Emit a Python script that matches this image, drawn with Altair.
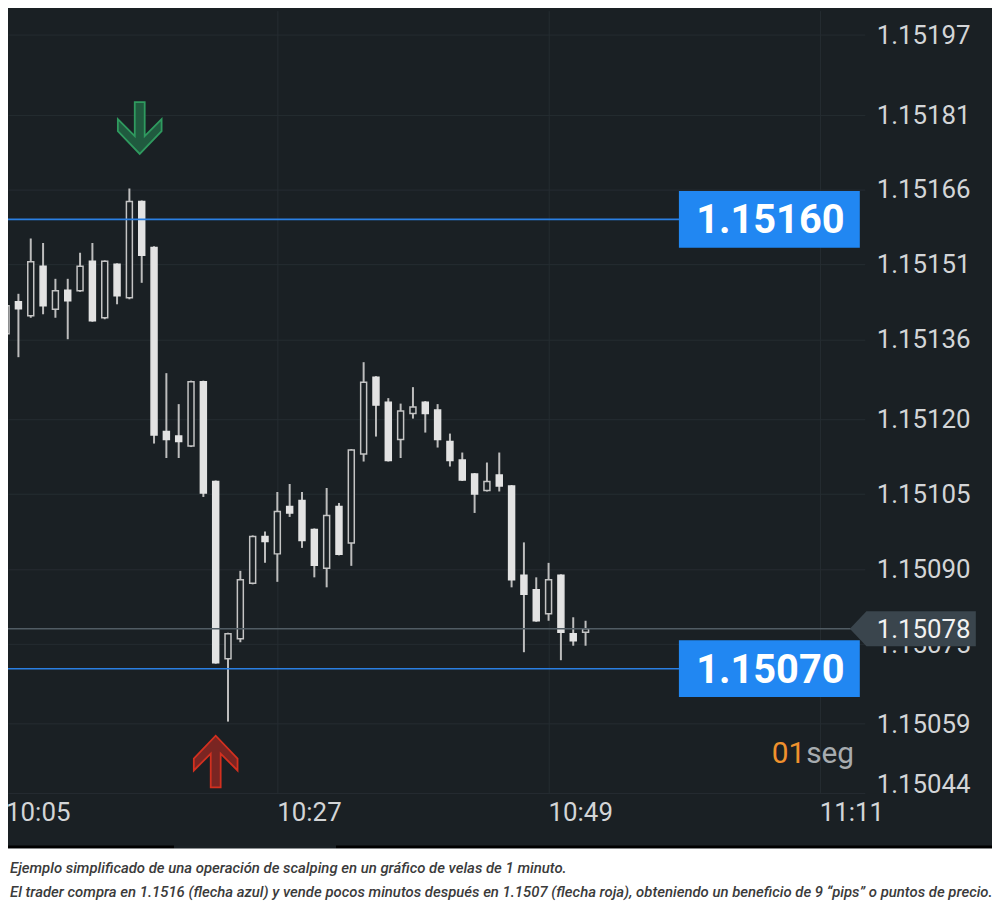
import altair as alt
import pandas as pd

# ---------------- data ----------------
times = ["10:05", "10:06", "10:07", "10:08", "10:09", "10:10", "10:11", "10:12",
         "10:13", "10:14", "10:15", "10:16", "10:17", "10:18", "10:19", "10:20",
         "10:21", "10:22", "10:23", "10:24", "10:25", "10:26", "10:27", "10:28",
         "10:29", "10:30", "10:31", "10:32", "10:33", "10:34", "10:35", "10:36",
         "10:37", "10:38", "10:39", "10:40", "10:41", "10:42", "10:43", "10:44",
         "10:45", "10:46", "10:47", "10:48", "10:49", "10:50", "10:51", "10:52"]
opens = [1.151371, 1.151435, 1.151407, 1.151506, 1.151420, 1.151458, 1.151457, 1.151516,
         1.151403, 1.151510, 1.151443, 1.151636, 1.151544, 1.151175, 1.151166, 1.151146,
         1.151275, 1.151075, 1.150720, 1.150760, 1.150871, 1.150965, 1.150930, 1.151025,
         1.151037, 1.150979, 1.150901, 1.151025, 1.150952, 1.151130, 1.151284, 1.151234,
         1.151159, 1.151211, 1.151234, 1.151218, 1.151155, 1.151118, 1.151090, 1.151057,
         1.151088, 1.151066, 1.150887, 1.150858, 1.150810, 1.150887, 1.150770, 1.150773]
highs = [1.151443, 1.151451, 1.151562, 1.151553, 1.151481, 1.151481, 1.151533, 1.151553,
         1.151518, 1.151512, 1.151662, 1.151638, 1.151546, 1.151292, 1.151230, 1.151277,
         1.151277, 1.151077, 1.150772, 1.150896, 1.150967, 1.150975, 1.151054, 1.151070,
         1.151054, 1.150981, 1.151062, 1.151032, 1.151140, 1.151314, 1.151286, 1.151242,
         1.151231, 1.151264, 1.151236, 1.151230, 1.151171, 1.151133, 1.151092, 1.151113,
         1.151133, 1.151068, 1.150953, 1.150883, 1.150912, 1.150889, 1.150803, 1.150796]
lows = [1.151323, 1.151324, 1.151403, 1.151410, 1.151403, 1.151360, 1.151455, 1.151395,
        1.151400, 1.151430, 1.151440, 1.151473, 1.151151, 1.151122, 1.151122, 1.151144,
        1.151044, 1.150710, 1.150594, 1.150753, 1.150869, 1.150912, 1.150874, 1.151004,
        1.150942, 1.150883, 1.150863, 1.150927, 1.150906, 1.151115, 1.151165, 1.151115,
        1.151122, 1.151201, 1.151173, 1.151143, 1.151105, 1.151076, 1.151012, 1.151055,
        1.151055, 1.150863, 1.150733, 1.150794, 1.150796, 1.150717, 1.150746, 1.150746]
closes = [1.151427, 1.151421, 1.151515, 1.151427, 1.151457, 1.151437, 1.151506, 1.151397,
          1.151516, 1.151447, 1.151636, 1.151528, 1.151168, 1.151159, 1.151155, 1.151275,
          1.151052, 1.150712, 1.150770, 1.150878, 1.150965, 1.150955, 1.151015, 1.151012,
          1.150957, 1.150907, 1.151007, 1.150929, 1.151138, 1.151274, 1.151228, 1.151117,
          1.151216, 1.151224, 1.151211, 1.151159, 1.151117, 1.151078, 1.151050, 1.151075,
          1.151066, 1.150878, 1.150849, 1.150796, 1.150878, 1.150773, 1.150756, 1.150780]

level_prices = [1.15160, 1.15070]
level_labels = ["1.15160", "1.15070"]
last_price = [1.15078]
last_label = ["1.15078"]
y_ticks = [1.15197, 1.15181, 1.15166, 1.15151, 1.15136, 1.15120, 1.15105,
           1.15090, 1.15075, 1.15059, 1.15044]
y_tick_labels = ["1.15197", "1.15181", "1.15166", "1.15151", "1.15136", "1.15120",
                 "1.15105", "1.15090", "1.15075", "1.15059", "1.15044"]
x_ticks = ["10:05", "10:27", "10:49", "11:11"]
arrow_times = ["10:16", "10:22"]
arrow_prices = [1.151783, 1.150514]
timer_num = ["01"]
timer_unit = ["seg"]
caption_lines = [
    "Ejemplo simplificado de una operación de scalping en un gráfico de velas de 1 minuto.",
    "El trader compra en 1.1516 (flecha azul) y vende pocos minutos después en 1.1507 (flecha roja), obteniendo un beneficio de 9 “pips” o puntos de precio.",
]

# lowest level at which the platform still prints a price label (bottom labels are kept inside the pane)
label_floor = 1.150469


def to_min(s):
    h, m = s.split(":")
    return int(h) * 60 + int(m)


candles = pd.DataFrame({
    "minute": [to_min(t) for t in times],
    "open": opens, "high": highs, "low": lows, "close": closes,
})
candles["dir"] = ["up" if c >= o else "down" for o, c in zip(opens, closes)]

levels = pd.DataFrame({"price": level_prices, "label": level_labels})
current = pd.DataFrame({"price": last_price, "label": last_label})
arrows = pd.DataFrame({"minute": [to_min(t) for t in arrow_times], "price": arrow_prices})
xlab = pd.DataFrame({"minute": [to_min(t) for t in x_ticks], "label": x_ticks})
ylab = pd.DataFrame({"price": [max(v, label_floor) for v in y_ticks], "label": y_tick_labels})

# ---------------- style ----------------
BG = "#1a2024"
GRID = "#252c31"
LABEL = "#d3d5d7"
FILLC = "#e3e3e3"
OUTLINE = "#c4c4c4"
WICK = "#bdbdbd"
BLUE_LINE = "#2a7fe2"
BLUE_BOX = "#2187f2"
TAG = "#3a454d"
CP_LINE = "#515c64"
FONT = "Roboto"

xs = alt.Scale(domain=[605.558, 674.243], nice=False, zero=False)
ys = alt.Scale(domain=[1.1504511, 1.1520181], nice=False, zero=False)

x_axis = alt.Axis(
    values=[to_min(t) for t in x_ticks], labels=False,
    title=None, grid=True, gridColor=GRID, gridWidth=1,
    domain=True, domainColor=GRID, domainWidth=1,
    ticks=False, tickSize=0,
)
y_axis = alt.Axis(
    orient="right", values=y_ticks, labels=False,
    title=None, grid=True, gridColor=GRID, gridWidth=1,
    domain=False, ticks=False, tickSize=0,
)

X = alt.X("minute:Q", scale=xs, axis=x_axis)


def Y(field):
    return alt.Y(field, scale=ys, axis=y_axis)


# axis labels as text layers (so the partly hidden edge labels are kept)
x_labels = alt.Chart(xlab).mark_text(
    font=FONT, fontSize=26, color=LABEL, align="left", baseline="middle").encode(
    x=X, y=alt.value(807), text="label:N")
y_labels = alt.Chart(ylab).mark_text(
    font=FONT, fontSize=26, color=LABEL, align="left", baseline="middle", dy=1).encode(
    x=alt.value(874), y=Y("price:Q"), text="label:N")

# candles
wicks = alt.Chart(candles).mark_rule(strokeWidth=2, color=WICK, clip=True).encode(
    x=X, y=Y("low:Q"), y2="high:Q")

bodies = alt.Chart(candles).mark_bar(size=6, strokeWidth=1.5, clip=True).encode(
    x=X,
    y=Y("open:Q"),
    y2="close:Q",
    fill=alt.Fill("dir:N", scale=alt.Scale(domain=["up", "down"], range=[BG, FILLC]), legend=None),
    stroke=alt.Stroke("dir:N", scale=alt.Scale(domain=["up", "down"], range=[OUTLINE, FILLC]), legend=None),
)

# level lines and boxes
level_lines = alt.Chart(levels).mark_rule(color=BLUE_LINE, strokeWidth=1.6).encode(
    x=alt.value(0), x2=alt.value(676), y=Y("price:Q"))

BOX_PATH = "M-91,-28.5L91,-28.5L91,28.5L-91,28.5Z"
level_boxes = alt.Chart(levels).mark_point(
    shape=BOX_PATH, size=4, filled=True, fill=BLUE_BOX, stroke=BLUE_BOX,
    strokeWidth=0, opacity=1).encode(
    x=alt.value(766), y=Y("price:Q"))

level_text = alt.Chart(levels).mark_text(
    font=FONT, fontSize=40, fontWeight="bold", color="#ffffff",
    align="center", baseline="middle", dy=2).encode(
    x=alt.value(767), y=Y("price:Q"), text="label:N")

# current price line + tag
cp_line = alt.Chart(current).mark_rule(color=CP_LINE, strokeWidth=1.5).encode(
    x=alt.value(0), x2=alt.value(848), y=Y("price:Q"))

TAG_PATH = "M0,0L16.7,-17.5L126.7,-17.5L126.7,17.5L16.7,17.5Z"
cp_tag = alt.Chart(current).mark_point(
    shape=TAG_PATH, size=4, filled=True, fill=TAG, stroke=TAG,
    strokeWidth=0, opacity=1).encode(
    x=alt.value(847), y=Y("price:Q"))

cp_text = alt.Chart(current).mark_text(
    font=FONT, fontSize=26, color="#f2f2f2", align="left", baseline="middle", dy=1).encode(
    x=alt.value(874), y=Y("price:Q"), text="label:N")

# arrows
DOWN_PATH = "M-7,-26L3,-26L3,8L20,-9L20,3L-2,26L-24,3L-24,-9L-7,8Z"
UP_PATH = "M-5,26L5,26L5,-8L22,9L22,-3L0,-26L-22,-3L-22,9L-5,-8Z"
arrow_down = alt.Chart(arrows.iloc[[0]]).mark_point(
    shape=DOWN_PATH, size=4, filled=True, fill="#205a3f", stroke="#2f9a5f",
    strokeWidth=1.8, opacity=1).encode(
    x=X, y=Y("price:Q"))
arrow_up = alt.Chart(arrows.iloc[[1]]).mark_point(
    shape=UP_PATH, size=4, filled=True, fill="#7a2522", stroke="#d2301f",
    strokeWidth=1.8, opacity=1).encode(
    x=X, y=Y("price:Q"))

# timer text
timer_a = alt.Chart(pd.DataFrame({"t": timer_num})).mark_text(
    font=FONT, fontSize=30, color="#f0912d", align="right", baseline="middle").encode(
    text="t:N", x=alt.value(802), y=alt.value(748))
timer_b = alt.Chart(pd.DataFrame({"t": timer_unit})).mark_text(
    font=FONT, fontSize=30, color="#a7acb0", align="left", baseline="middle").encode(
    text="t:N", x=alt.value(803), y=alt.value(748))

# caption band
one = pd.DataFrame({"a": [0]})
black_a = alt.Chart(one).mark_rect(color="#000000").encode(
    x=alt.value(0), x2=alt.value(167), y=alt.value(840), y2=alt.value(843))
black_b = alt.Chart(one).mark_rect(color="#000000").encode(
    x=alt.value(330), x2=alt.value(992), y=alt.value(840), y2=alt.value(843))
white_band = alt.Chart(one).mark_rect(color="#ffffff").encode(
    x=alt.value(0), x2=alt.value(992), y=alt.value(843), y2=alt.value(900))

caption_layers = []
for i, line in enumerate(caption_lines):
    caption_layers.append(
        alt.Chart(pd.DataFrame({"t": [line]})).mark_text(
            font=FONT, fontSize=15, fontStyle="italic", fontWeight=500,
            color="#3b3b3b", align="left", baseline="middle").encode(
            text="t:N", x=alt.value(2), y=alt.value(863 + 24 * i)))

chart = alt.layer(
    wicks, bodies, level_lines, cp_line, level_boxes, level_text,
    x_labels, y_labels,
    cp_tag, cp_text, arrow_down, arrow_up, timer_a, timer_b,
    black_a, black_b, white_band, *caption_layers,
).properties(
    width=862, height=787,
    autosize=alt.AutoSizeParams(type="none"),
    padding={"left": 0, "top": 0, "right": 128, "bottom": 106},
    background=BG,
).configure_view(strokeWidth=0)

chart.save("out.html", embed_options={"renderer": "svg", "actions": False})
